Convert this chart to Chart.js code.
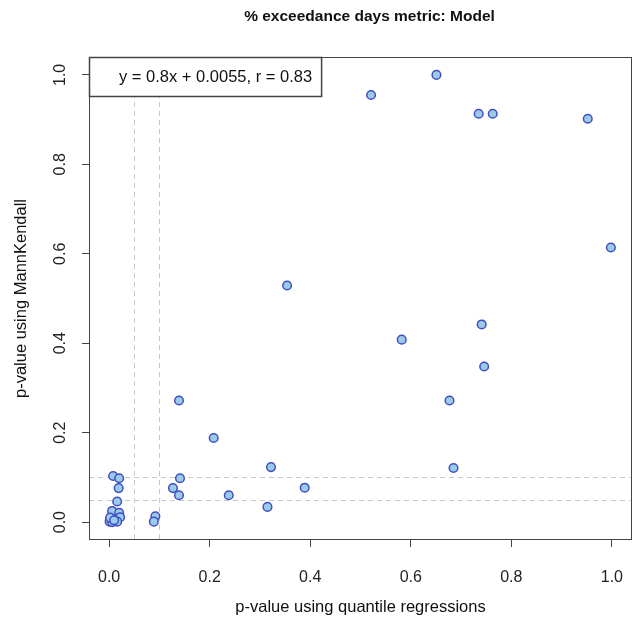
<!DOCTYPE html>
<html>
<head>
<meta charset="utf-8">
<script src="https://cdn.jsdelivr.net/npm/chart.js@4.4.1/dist/chart.umd.min.js"></script>
<style>
  html, body { margin: 0; padding: 0; background: #fff; }
  #wrap { width: 641px; height: 624px; }
</style>
</head>
<body>
<div id="wrap"><canvas id="chart" width="641" height="624"></canvas></div>
<script>
// p-values per site: quantile regression (x) vs MannKendall (y)
const qrPValues = [
  0.651, 0.521, 0.735, 0.763, 0.952, 0.998, 0.354, 0.582, 0.741, 0.746,
  0.677, 0.139, 0.208, 0.322, 0.685, 0.389, 0.238, 0.315, 0.141, 0.127,
  0.139, 0.092, 0.089, 0.008, 0.020, 0.019, 0.016, 0.006, 0.020, 0.022,
  0.003, 0.001, 0.016, 0.006, 0.002, 0.010
];
const mkPValues = [
  1.000, 0.955, 0.913, 0.913, 0.902, 0.614, 0.529, 0.408, 0.442, 0.348,
  0.272, 0.272, 0.188, 0.123, 0.121, 0.077, 0.060, 0.034, 0.098, 0.076,
  0.060, 0.013, 0.001, 0.103, 0.098, 0.076, 0.046, 0.025, 0.021, 0.011,
  0.006, 0.001, 0.001, 0.000, 0.010, 0.004
];
const tickValues = [0, 0.2, 0.4, 0.6, 0.8, 1.0];
const thresholds = [0.05, 0.1];
const fitLabel = 'y = 0.8x + 0.0055, r = 0.83';

const FONT = '"Liberation Sans", Arial, Helvetica, sans-serif';
const AXIS_MIN = -0.04, AXIS_MAX = 1.04;

const points = qrPValues.map((x, i) => ({ x, y: mkPValues[i] }));

const setTicks = scale => { scale.ticks = tickValues.map(v => ({ value: v })); };

// R-style frame, threshold lines, fit legend and text
const decorations = {
    id: 'decorations',
    beforeDatasetsDraw(chart) {
        const { ctx, chartArea: a, scales: { x, y } } = chart;
        ctx.save();
        ctx.strokeStyle = '#c8c8c8';
        ctx.lineWidth = 1;
        ctx.setLineDash([5, 4]);
        thresholds.forEach(t => {
            const px = Math.round(x.getPixelForValue(t)) + 0.5;
            const py = Math.round(y.getPixelForValue(t)) + 0.5;
            ctx.beginPath(); ctx.moveTo(px, a.top); ctx.lineTo(px, a.bottom); ctx.stroke();
            ctx.beginPath(); ctx.moveTo(a.left, py); ctx.lineTo(a.right, py); ctx.stroke();
        });
        ctx.restore();
    },
    afterDatasetsDraw(chart) {
        const { ctx, chartArea: a, scales: { x, y } } = chart;
        ctx.save();

        // plot frame
        ctx.strokeStyle = '#444';
        ctx.lineWidth = 1;
        ctx.strokeRect(a.left + 0.5, a.top + 0.5, a.right - a.left - 1, a.bottom - a.top - 1);

        // tick labels
        ctx.fillStyle = '#222';
        ctx.font = '16px ' + FONT;
        ctx.textAlign = 'center';
        ctx.textBaseline = 'middle';
        tickValues.forEach(v => {
            ctx.fillText(v.toFixed(1), x.getPixelForValue(v), 578);
            ctx.save();
            ctx.translate(61, y.getPixelForValue(v));
            ctx.rotate(-Math.PI / 2);
            ctx.fillText(v.toFixed(1), 0, 0);
            ctx.restore();
        });

        // fit legend box in the top-left corner
        ctx.font = '16.5px ' + FONT;
        const tw = ctx.measureText(fitLabel).width;
        const bw = 30 + tw + 9, bh = 39;
        ctx.fillStyle = '#fff';
        ctx.fillRect(a.left, a.top, bw, bh);
        ctx.strokeStyle = '#444';
        ctx.lineWidth = 1.5;
        ctx.strokeRect(a.left + 0.5, a.top + 0.5, bw, bh);
        ctx.fillStyle = '#111';
        ctx.textAlign = 'left';
        ctx.fillText(fitLabel, a.left + 30, a.top + bh / 2 + 1);

        // titles
        const cx = (a.left + a.right) / 2;
        ctx.textAlign = 'center';
        ctx.fillStyle = '#111';
        ctx.font = 'bold 15.5px ' + FONT;
        ctx.fillText('% exceedance days metric: Model', cx + 9, 17);
        ctx.font = '16.5px ' + FONT;
        ctx.fillText('p-value using quantile regressions', cx, 607);
        ctx.save();
        ctx.translate(21, (a.top + a.bottom) / 2);
        ctx.rotate(-Math.PI / 2);
        ctx.fillText('p-value using MannKendall', 0, 0);
        ctx.restore();

        ctx.restore();
    }
};

new Chart(document.getElementById('chart'), {
    type: 'scatter',
    data: {
        datasets: [{
            data: points,
            pointRadius: 4.3,
            pointHoverRadius: 4.3,
            pointBorderWidth: 1.5,
            pointBackgroundColor: '#9ccbe9',
            pointBorderColor: '#3f4fc2',
        }]
    },
    options: {
        responsive: false,
        animation: false,
        events: [],
        layout: { padding: { top: 57, right: 9, left: 0, bottom: 0 } },
        plugins: {
            legend: { display: false },
            tooltip: { enabled: false },
        },
        scales: {
            x: {
                type: 'linear',
                min: AXIS_MIN,
                max: AXIS_MAX,
                afterBuildTicks: setTicks,
                afterFit: s => { s.height = 84; },
                ticks: { display: false },
                border: { display: false },
                grid: { drawOnChartArea: false, drawTicks: true, tickLength: 7, color: '#444' },
            },
            y: {
                type: 'linear',
                min: AXIS_MIN,
                max: AXIS_MAX,
                afterBuildTicks: setTicks,
                afterFit: s => { s.width = 89; },
                ticks: { display: false },
                border: { display: false },
                grid: { drawOnChartArea: false, drawTicks: true, tickLength: 7, color: '#444' },
            }
        }
    },
    plugins: [decorations]
});
</script>
</body>
</html>
